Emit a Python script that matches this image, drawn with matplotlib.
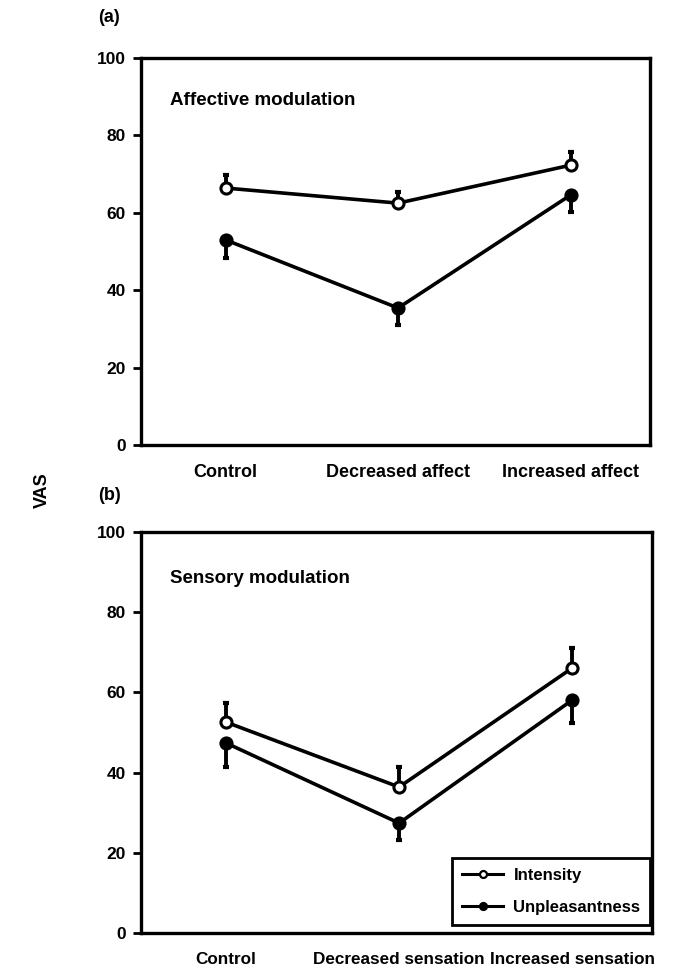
import matplotlib
matplotlib.use("Agg")
import matplotlib.pyplot as plt
from matplotlib.lines import Line2D

plt.rcParams['font.family'] = ['Liberation Sans', 'DejaVu Sans']
plt.rcParams['font.weight'] = 'bold'

cats_a = ["Control", "Decreased affect", "Increased affect"]
int_a = [66.4, 62.5, 72.3]
int_a_err = [3.4, 3.0, 3.5]
unp_a = [53.0, 35.4, 64.6]
unp_a_err = [4.7, 4.5, 4.4]

cats_b = ["Control", "Decreased sensation", "Increased sensation"]
int_b = [52.6, 36.4, 66.1]
int_b_err = [4.8, 5.0, 5.0]
unp_b = [47.4, 27.4, 58.1]
unp_b_err = [6.0, 4.2, 5.7]

yticks = [0, 20, 40, 60, 80, 100]

fig = plt.figure(figsize=(6.86, 9.8), dpi=100)
ax1 = fig.add_axes([141/686, 1-445/980, 509/686, 387/980])
ax2 = fig.add_axes([141/686, 1-933/980, 511/686, 401/980])


def panel(ax, cats, ints, ie, unps, ue, title, ty, xfs):
    x = list(range(len(cats)))
    z = [0]*len(cats)
    ax.errorbar(x, ints, yerr=[z, ie], fmt='none', ecolor='black',
                elinewidth=2.8, capsize=2.5, capthick=3, zorder=2)
    ax.errorbar(x, unps, yerr=[ue, z], fmt='none', ecolor='black',
                elinewidth=2.8, capsize=2.5, capthick=3, zorder=2)
    ax.plot(x, ints, '-o', color='black', lw=2.6, markersize=8,
            markerfacecolor='white', markeredgewidth=2.2, zorder=3)
    ax.plot(x, unps, '-o', color='black', lw=2.6, markersize=8,
            markerfacecolor='black', markeredgewidth=2.2, zorder=3)
    ax.set_xlim(-0.49, 2.46)
    ax.set_ylim(0, 100)
    ax.set_yticks(yticks)
    ax.set_yticklabels([str(v) for v in yticks], fontsize=12.5, fontweight='bold')
    ax.set_xticks(x)
    ax.set_xticklabels(cats, fontsize=xfs, fontweight='bold')
    ax.tick_params(axis='x', length=0, pad=14)
    ax.tick_params(axis='y', direction='out', length=6, width=2, pad=5)
    for s in ax.spines.values():
        s.set_linewidth(2.4)
    ax.text(0.057, ty, title, transform=ax.transAxes, fontsize=13.5,
            fontweight='bold', ha='left', va='center')


panel(ax1, cats_a, int_a, int_a_err, unp_a, unp_a_err, "Affective modulation", 0.891, 13)
panel(ax2, cats_b, int_b, int_b_err, unp_b, unp_b_err, "Sensory modulation", 0.885, 12.3)

handles = [
    Line2D([], [], color='black', lw=2.2, marker='o', markersize=5,
           markerfacecolor='white', markeredgewidth=1.6),
    Line2D([], [], color='black', lw=2.2, marker='o', markersize=5,
           markerfacecolor='black', markeredgewidth=1.6),
]
leg = ax2.legend(handles, ["Intensity", "Unpleasantness"], loc='lower right',
                 bbox_to_anchor=(0.997, 0.02), fancybox=False, framealpha=1,
                 edgecolor='black', handlelength=2.5, handletextpad=0.6,
                 labelspacing=1.0, borderpad=0.6, borderaxespad=0.0,
                 prop={'weight': 'bold', 'size': 12})
leg.get_frame().set_linewidth(2.0)

fig.text(98/686, 1-18/980, "(a)", fontsize=13, fontweight='bold', ha='left', va='center')
fig.text(98/686, 1-495/980, "(b)", fontsize=13, fontweight='bold', ha='left', va='center')
fig.text(42/686, 1-490/980, "VAS", fontsize=13, fontweight='bold', rotation=90,
         ha='center', va='center')

fig.savefig("out.png", dpi=100)
